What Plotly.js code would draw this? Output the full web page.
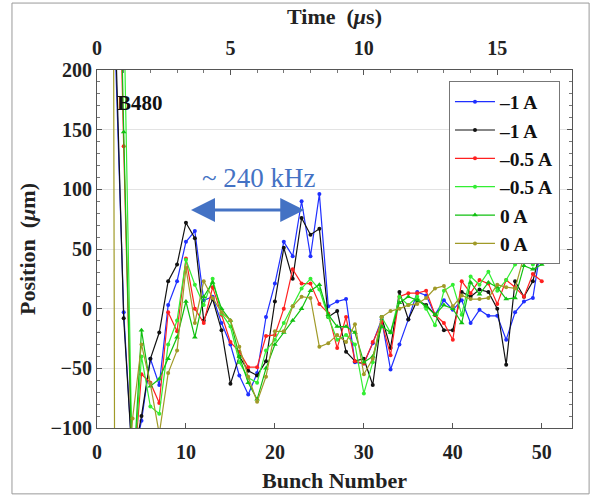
<!DOCTYPE html>
<html>
<head>
<meta charset="utf-8">
<script src="https://cdn.plot.ly/plotly-3.0.1.min.js"></script>
<style>
html,body{margin:0;padding:0;background:#fff;}
#chart{width:602px;height:501px;}
</style>
</head>
<body>
<div id="chart"></div>
<script>
// Bunch numbers (x axis)
const bunches = [1,2,3,4,5,6,7,8,9,10,11,12,13,14,15,16,17,18,19,20,21,22,23,24,25,26,27,28,29,30,31,32,33,34,35,36,37,38,39,40,41,42,43,44,45,46,47,48,49,50];

// Series: position (um) per bunch
const blueNeg1 = [2500,230,-3,-130,-94,-42,-64,3,23,56,65,7,10,-12,-30,-56,-72,-54,-7,21,56,44,90,44,96,2,6,8,-45,-46,-29,-9,-51,-30,-9,14,11,-5,7,-1,7,-12,-1,-6,-6,-26,-3,6,9,56];
const blackNeg1 = [2500,250,-8,-130,-90,-42,-20,23,37,72,59,-10,8,-18,-63,-40,-52,-56,-44,6,51,25,76,62,67,-7,-2,-36,-44,-42,-64,-7,-33,14,-9,7,3,-5,-18,-18,14,10,16,14,0,-47,23,10,23,53];
const redNeg05 = [1500,450,136,-150,-55,-62,-79,-3,-19,42,0,-12,18,-5,-28,-36,-49,-49,-23,-22,0,33,21,21,4,-4,-33,-7,-44,-46,-28,-11,-39,10,13,13,15,-5,-12,-26,23,13,24,21,4,24,18,10,29,23];
const limeNeg05 = [3000,2000,260,-150,-40,-82,-88,-30,-10,41,20,3,25,-4,-15,-45,-58,-62,-35,-26,-12,2,17,25,16,-7,-26,-22,-30,-71,-45,-7,-20,10,3,10,0,-14,15,20,-5,27,20,31,15,24,37,41,37,56];
const greenZero = [3000,500,148,-150,-18,-65,-59,-42,-24,6,-24,10,22,0,-10,-40,-62,-76,-50,-30,-20,-10,0,15,20,-5,-15,-15,-20,-45,-40,-15,-20,5,10,7,2,-5,3,0,-12,22,12,22,18,8,9,36,33,37];
const oliveZero = [3000,-200,-200,-92,-30,-63,-105,-54,-35,34,-12,23,9,-3,-10,-32,-57,-78,-57,-19,-19,2,10,9,-32,-29,-22,-28,-13,-55,-42,-7,-2,0,3,4,9,17,19,2,11,8,8,9,20,18,17,44,44,50];

// Legend labels
const labels = ['\u20131 A','\u20131 A','\u20130.5 A','\u20130.5 A','0 A','0 A'];
const colors = ['#1f2fff','#111111','#ff2020','#33ee33','#10c010','#a09a28'];
const symbols = ['circle','circle','circle','circle','triangle-up','circle'];
const series = [blueNeg1, blackNeg1, redNeg05, limeNeg05, greenZero, oliveZero];

// Axis tick values
const yTicks = [-100,-50,0,50,100,150,200];
const xTicks = [0,10,20,30,40,50];
const timeTicks = [0,5,10,15];

const serif = 'Liberation Serif, Times New Roman, serif';

const traces = series.map((s, i) => ({
  x: bunches, y: s, type: 'scatter', mode: 'lines+markers',
  name: labels[i],
  line: {color: colors[i], width: 1.2},
  marker: {color: colors[i], size: symbols[i] === 'circle' ? 4 : 5, symbol: symbols[i]},
  hoverinfo: 'skip'
}));
// top time axis carrier (no visible marks)
traces.push({x: [], y: [], xaxis: 'x2', type: 'scatter', mode: 'lines', showlegend: false, hoverinfo: 'skip'});

const tickFont = {family: serif, size: 20, weight: 'bold', color: '#222'};
const titleFont = {family: serif, size: 22, weight: 'bold', color: '#222'};
const xMax = 53.4;

const layout = {
  width: 602, height: 501,
  margin: {l: 97, r: 30, t: 70, b: 73, pad: 0},
  paper_bgcolor: '#ffffff', plot_bgcolor: '#ffffff',
  showlegend: true,
  legend: {
    x: 0.741, y: 0.968, xanchor: 'left', yanchor: 'top',
    bgcolor: '#ffffff', bordercolor: '#777', borderwidth: 1,
    font: {family: serif, size: 19.5, weight: 'bold', color: '#111'},
    tracegroupgap: 0, itemwidth: 40
  },
  xaxis: {
    range: [0, xMax], tickvals: xTicks, ticks: 'inside', ticklen: 5, tickcolor: '#555',
    showline: true, linecolor: '#555', linewidth: 1, mirror: true,
    showgrid: false, zeroline: false, tickfont: tickFont, ticklabelstandoff: 6,
    title: {text: 'Bunch Number', font: titleFont, standoff: 10}
  },
  xaxis2: {
    overlaying: 'x', side: 'top', anchor: 'y',
    range: [0, xMax / 3], tickvals: timeTicks, ticks: 'inside', ticklen: 5, tickcolor: '#555',
    minor: {dtick: 1, ticks: 'inside', ticklen: 3, tickcolor: '#777'},
    showline: false, showgrid: false, zeroline: false, tickfont: tickFont, ticklabelstandoff: 10,
    title: {text: 'Time  (<i>\u03bc</i>s)', font: titleFont, standoff: 6}
  },
  yaxis: {
    range: [-100, 200], tickvals: yTicks, ticks: 'inside', ticklen: 5, tickcolor: '#555',
    minor: {dtick: 10, ticks: 'inside', ticklen: 3, tickcolor: '#777', showgrid: false},
    showline: true, linecolor: '#555', linewidth: 1, mirror: 'ticks',
    showgrid: true, gridcolor: '#e3e3e3', gridwidth: 1, zeroline: false, tickfont: tickFont,
    title: {text: 'Position  (<i>\u03bc</i>m)', font: titleFont, standoff: 8}
  },
  annotations: [
    {xref: 'paper', yref: 'paper', x: 0.0905, y: 0.908, xanchor: 'center', yanchor: 'middle',
     text: 'B480', showarrow: false,
     font: {family: serif, size: 21, weight: 'bold', color: '#111'}},
    {xref: 'paper', yref: 'paper', x: 0.341, y: 0.698, xanchor: 'center', yanchor: 'middle',
     text: '~ 240 kHz', showarrow: false,
     font: {family: serif, size: 27, color: '#4472c4'}},
    {xref: 'x', yref: 'y', axref: 'x', ayref: 'y', x: 23.3, y: 82.7, ax: 10.4, ay: 82.7,
     text: '', showarrow: true, arrowside: 'end+start', arrowhead: 2, arrowsize: 1.6,
     arrowwidth: 3, arrowcolor: '#4472c4', standoff: 0, startstandoff: 0}
  ],
  shapes: [
    {type: 'rect', xref: 'paper', yref: 'paper', x0: -0.179, x1: 1.036, y0: -0.184, y1: 1.187,
     line: {color: '#999', width: 1}, fillcolor: 'rgba(0,0,0,0)', layer: 'below'}
  ]
};

Plotly.newPlot('chart', traces, layout, {displayModeBar: false, staticPlot: true});
</script>
</body>
</html>
